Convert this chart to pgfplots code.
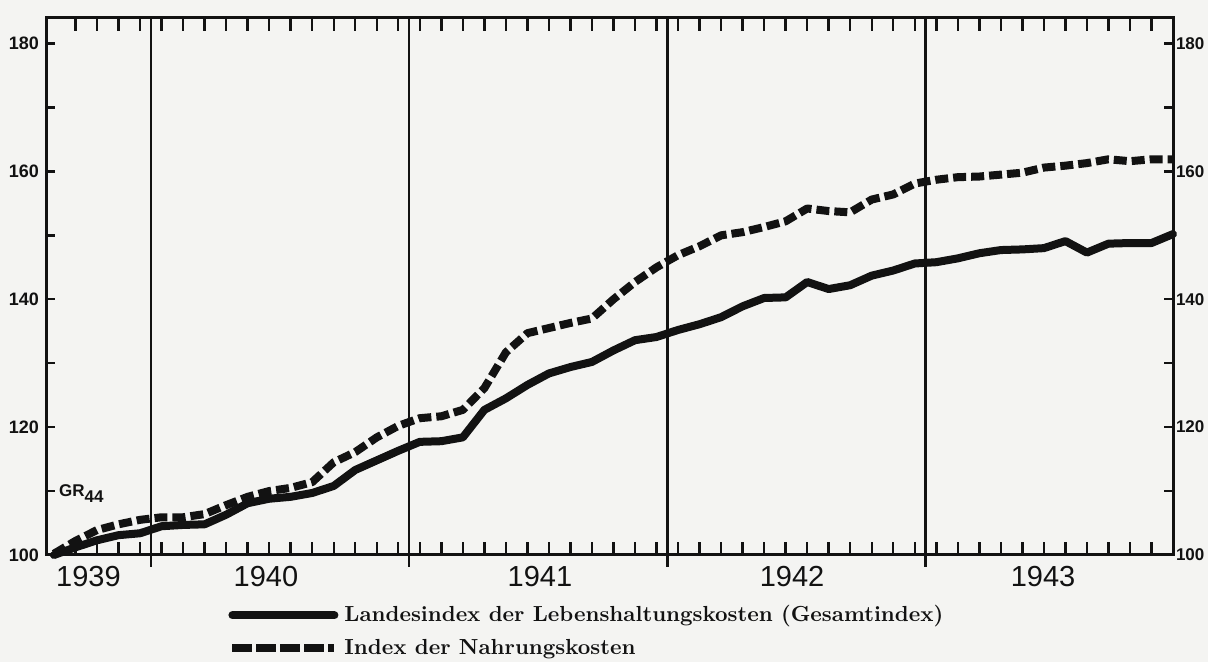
\documentclass[border=0pt]{standalone}
\usepackage{fontspec}
\usepackage{pgfplots}
\usepackage{pgfplotstable}
\pgfplotsset{compat=1.18}
\newfontfamily\hand{Liberation Sans}
\definecolor{paper}{RGB}{244,244,242}
\definecolor{ink}{RGB}{18,18,18}

% months counted from Jan 1939 = 0 (Aug 1939 = 7, Dec 1943 = 59)
\pgfplotstableread{
m v
7 100.0
8 101.2
9 102.3
10 103.1
11 103.4
12 104.5
13 104.7
14 104.8
15 106.3
16 108.1
17 108.8
18 109.1
19 109.7
20 110.8
21 113.3
22 114.8
23 116.3
24 117.7
25 117.8
26 118.4
27 122.7
28 124.5
29 126.6
30 128.4
31 129.4
32 130.2
33 132.0
34 133.6
35 134.1
36 135.2
37 136.1
38 137.2
39 138.9
40 140.2
41 140.3
42 142.7
43 141.6
44 142.2
45 143.7
46 144.5
47 145.6
48 145.8
49 146.4
50 147.2
51 147.7
52 147.8
53 148.0
54 149.1
55 147.3
56 148.7
57 148.8
58 148.8
59 150.2
}\gesamt

\pgfplotstableread{
m v
7 100.2
8 102.2
9 103.9
10 104.8
11 105.5
12 105.9
13 105.9
14 106.4
15 107.8
16 109.1
17 110.0
18 110.5
19 111.4
20 114.5
21 116.1
22 118.4
23 120.2
24 121.4
25 121.7
26 122.7
27 126.1
28 131.7
29 134.7
30 135.5
31 136.3
32 137.0
33 140.0
34 142.7
35 145.0
36 146.9
37 148.3
38 150.0
39 150.5
40 151.3
41 152.2
42 154.2
43 153.8
44 153.6
45 155.6
46 156.4
47 158.1
48 158.7
49 159.1
50 159.2
51 159.5
52 159.8
53 160.6
54 160.9
55 161.3
56 161.9
57 161.6
58 161.9
59 161.9
}\nahrung

\begin{document}
\begin{tikzpicture}
\fill[paper] (0pt,0pt) rectangle (604pt,331pt);
\useasboundingbox (0pt,0pt) rectangle (604pt,331pt);
\begin{axis}[
  at={(23pt,53.5pt)}, anchor=south west,
  scale only axis, width=563.5pt, height=268.5pt,
  xmin=6.63, xmax=59, ymin=100, ymax=184,
  clip=false,
  axis line style={line width=1.5pt, ink},
  tick align=inside,
  tick style={line width=1.2pt, ink},
  xtick={8.6,16.85,29.58,41.3,52.96},
  xticklabels={1939,1940,1941,1942,1943},
  major x tick style={draw=none},
  minor xtick={8,...,58},
  minor tick length=6.5pt,
  major tick length=4.5pt,
  xtick pos=both,
  ytick pos=both,
  ytick={100,110,...,180},
  yticklabels={100,,120,,140,,160,,180},
  xticklabel style={font=\hand\fontsize{14.5}{16}\selectfont, text=ink, yshift=-2pt},
  yticklabel style={font=\hand\bfseries\fontsize{9}{10}\selectfont, text=ink},
  legend style={draw=none, fill=none, at={(axis description cs:0.1615,-0.086)}, anchor=north west,
    inner sep=0pt, row sep=3pt, column sep=1pt,
    font=\bfseries\fontsize{10.9}{12}\selectfont, text=ink},
  legend cell align=left,
  legend image code/.code={\draw[#1] (0pt,0pt) -- (51pt,0pt);},
]
\addplot[ink, line width=4pt, line join=round, line cap=round] table[x=m, y=v] {\gesamt};
\addlegendentry{Landesindex der Lebenshaltungskosten (Gesamtindex)}
\addplot[ink, line width=4pt, line join=round, line cap=butt, dash pattern=on 6.5pt off 2.5pt,
  legend image code/.code={\draw[ink, line width=4pt, dash pattern=on 10pt off 2pt] (0pt,0pt) -- (51pt,0pt);}] table[x=m, y=v] {\nahrung};
\addlegendentry{Index der Nahrungskosten}
\draw[ink, line width=1.3pt] ([yshift=-6pt]axis cs:11.5,100) -- (axis cs:11.5,184);
\draw[ink, line width=1.3pt] ([yshift=-6pt]axis cs:23.5,100) -- (axis cs:23.5,184);
\draw[ink, line width=1.3pt] ([yshift=-6pt]axis cs:35.5,100) -- (axis cs:35.5,184);
\draw[ink, line width=1.3pt] ([yshift=-6pt]axis cs:47.5,100) -- (axis cs:47.5,184);
\end{axis}
\begin{axis}[
  at={(23pt,53.5pt)}, anchor=south west,
  scale only axis, width=563.5pt, height=268.5pt,
  xmin=6.63, xmax=59, ymin=100, ymax=184,
  axis x line=none, axis y line*=right,
  y axis line style={draw=none},
  major tick length=0pt,
  ytick={100,120,...,180},
  yticklabels={100,120,140,160,180},
  yticklabel style={font=\hand\bfseries\fontsize{8.5}{10}\selectfont, text=ink, inner sep=0.5pt, anchor=west, xshift=0.8pt},
]
\end{axis}
\node[font=\hand\bfseries\fontsize{8.5}{9}\selectfont, text=ink, anchor=west] at (26pt,84pt) {GR\raisebox{-3pt}{44}};
\end{tikzpicture}
\end{document}
